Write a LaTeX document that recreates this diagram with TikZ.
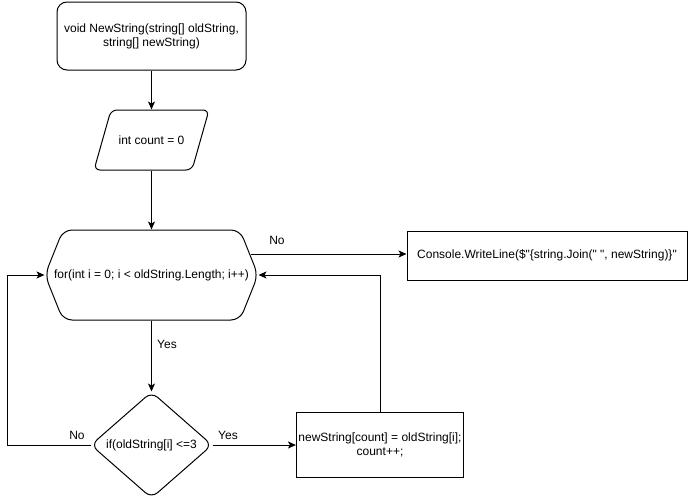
\documentclass[tikz,border=0pt]{standalone}
\usepackage{fontspec}
\newfontfamily\diafont{Liberation Sans}
\usetikzlibrary{arrows.meta}
\begin{document}
\begin{tikzpicture}[x=1pt,y=-1pt,font=\diafont\fontsize{12}{14}\selectfont,
  line width=1pt,
  arr/.style={-{Stealth[length=8pt,width=7pt,inset=2pt]}},
  frame/.style={draw,align=center,inner sep=2pt},
  ghost/.style={align=center,inner sep=0pt},
  lbl/.style={inner sep=0pt}]
\useasboundingbox (0,0) rectangle (688,501);
% start
\node[frame,rounded corners=10pt,minimum width=189pt,minimum height=68pt] (start) at (151.5,36) {void NewString(string[] oldString,\\string[] newString)};
% init (parallelogram)
\node[ghost,minimum width=115pt,minimum height=60pt] (init) at (151.5,140) {int count = 0};
\draw[rounded corners=6pt] (94,170) -- (111,110) -- (209,110) -- (192,170) -- cycle;
% for (hexagon)
\node[ghost,minimum width=213pt,minimum height=90pt] (for) at (151.5,275) {for(int i = 0; i < oldString.Length; i++)};
\draw[rounded corners=9pt] (45,275) -- (63,230) -- (240,230) -- (258,275) -- (240,320) -- (63,320) -- cycle;
% console
\node[frame,minimum width=280pt,minimum height=49pt] (console) at (547,255.5) {Console.WriteLine(\$"\{string.Join(" ", newString)\}"};
% condition (diamond)
\node[ghost,minimum width=121pt,minimum height=106pt] (cond) at (151.5,445) {if(oldString[i] <=3};
\draw[rounded corners=8pt] (151.5,392) -- (212,445) -- (151.5,498) -- (91,445) -- cycle;
% action
\node[frame,minimum width=166pt,minimum height=65pt] (act) at (380,444.5) {newString[count] = oldString[i];\\count++;};
% connectors
\draw[arr] (start.south) -- (init.north);
\draw[arr] (init.south) -- (for.north);
\coordinate (forNo) at (251,254);
\draw[arr] (forNo) -- (forNo -| console.west);
\draw[arr] (for.south) -- (cond.north);
\draw[arr] (cond.east) -- (cond.east -| act.west);
\coordinate (lx) at (7,275);
\draw[arr] (cond.west) -| (lx) -- (for.west);
\draw[arr] (act.north) |- (for.east);
% labels
\node[lbl] (lNo1) at (277,240) {No};
\node[lbl] (lYes1) at (167,344) {Yes};
\node[lbl] (lNo2) at (77,435) {No};
\node[lbl] (lYes2) at (228,435) {Yes};
\end{tikzpicture}
\end{document}
